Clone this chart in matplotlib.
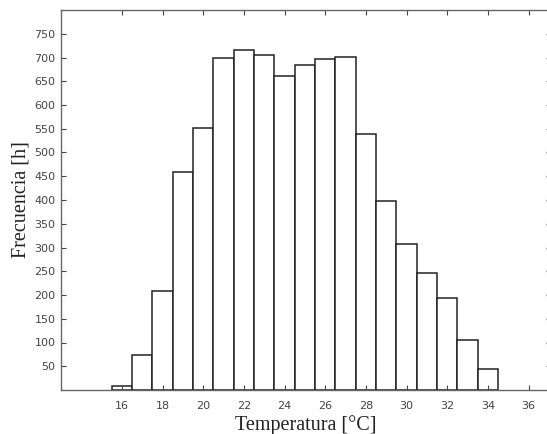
import numpy as np
import matplotlib.pyplot as plt

# centros de clase [°C] y horas de frecuencia
temperaturas = [16, 17, 18, 19, 20, 21, 22, 23, 24, 25,
                26, 27, 28, 29, 30, 31, 32, 33, 34]
frecuencias = [9, 74, 208, 458, 552, 700, 716, 705, 661, 684,
               696, 701, 540, 397, 307, 246, 194, 105, 44]
xticks = [16, 18, 20, 22, 24, 26, 28, 30, 32, 34, 36]
yticks = [50, 100, 150, 200, 250, 300, 350, 400, 450, 500, 550, 600, 650, 700, 750]


def main():
    fig = plt.figure(figsize=(5.47, 4.34), dpi=100)
    # el borde derecho queda fuera de la imagen, como en el original
    ax = fig.add_axes([61 / 547, 44 / 434, 490 / 547, 380 / 434])

    ax.bar(temperaturas, frecuencias, width=1.0, color='white',
           edgecolor='#222222', linewidth=1.1)

    ax.set_xlim(13, 37.1)
    ax.set_ylim(0, 800)
    ax.set_xticks(xticks)
    ax.set_yticks(yticks)

    ax.tick_params(direction='in', top=True, right=True, length=3.5,
                   width=0.8, color='#444444', labelsize=8,
                   labelcolor='#444444', pad=8)
    ax.tick_params(axis='y', pad=4)
    for s in ax.spines.values():
        s.set_color('#666666')
        s.set_linewidth(1.0)

    ax.set_xlabel('Temperatura [°C]', family='Liberation Serif', fontsize=14.5,
                  color='#222222', labelpad=3)
    ax.set_ylabel('Frecuencia [h]', family='Liberation Serif', fontsize=14.5,
                  color='#222222', labelpad=3)

    fig.savefig('out.png', dpi=100)


if __name__ == "__main__":
    main()
